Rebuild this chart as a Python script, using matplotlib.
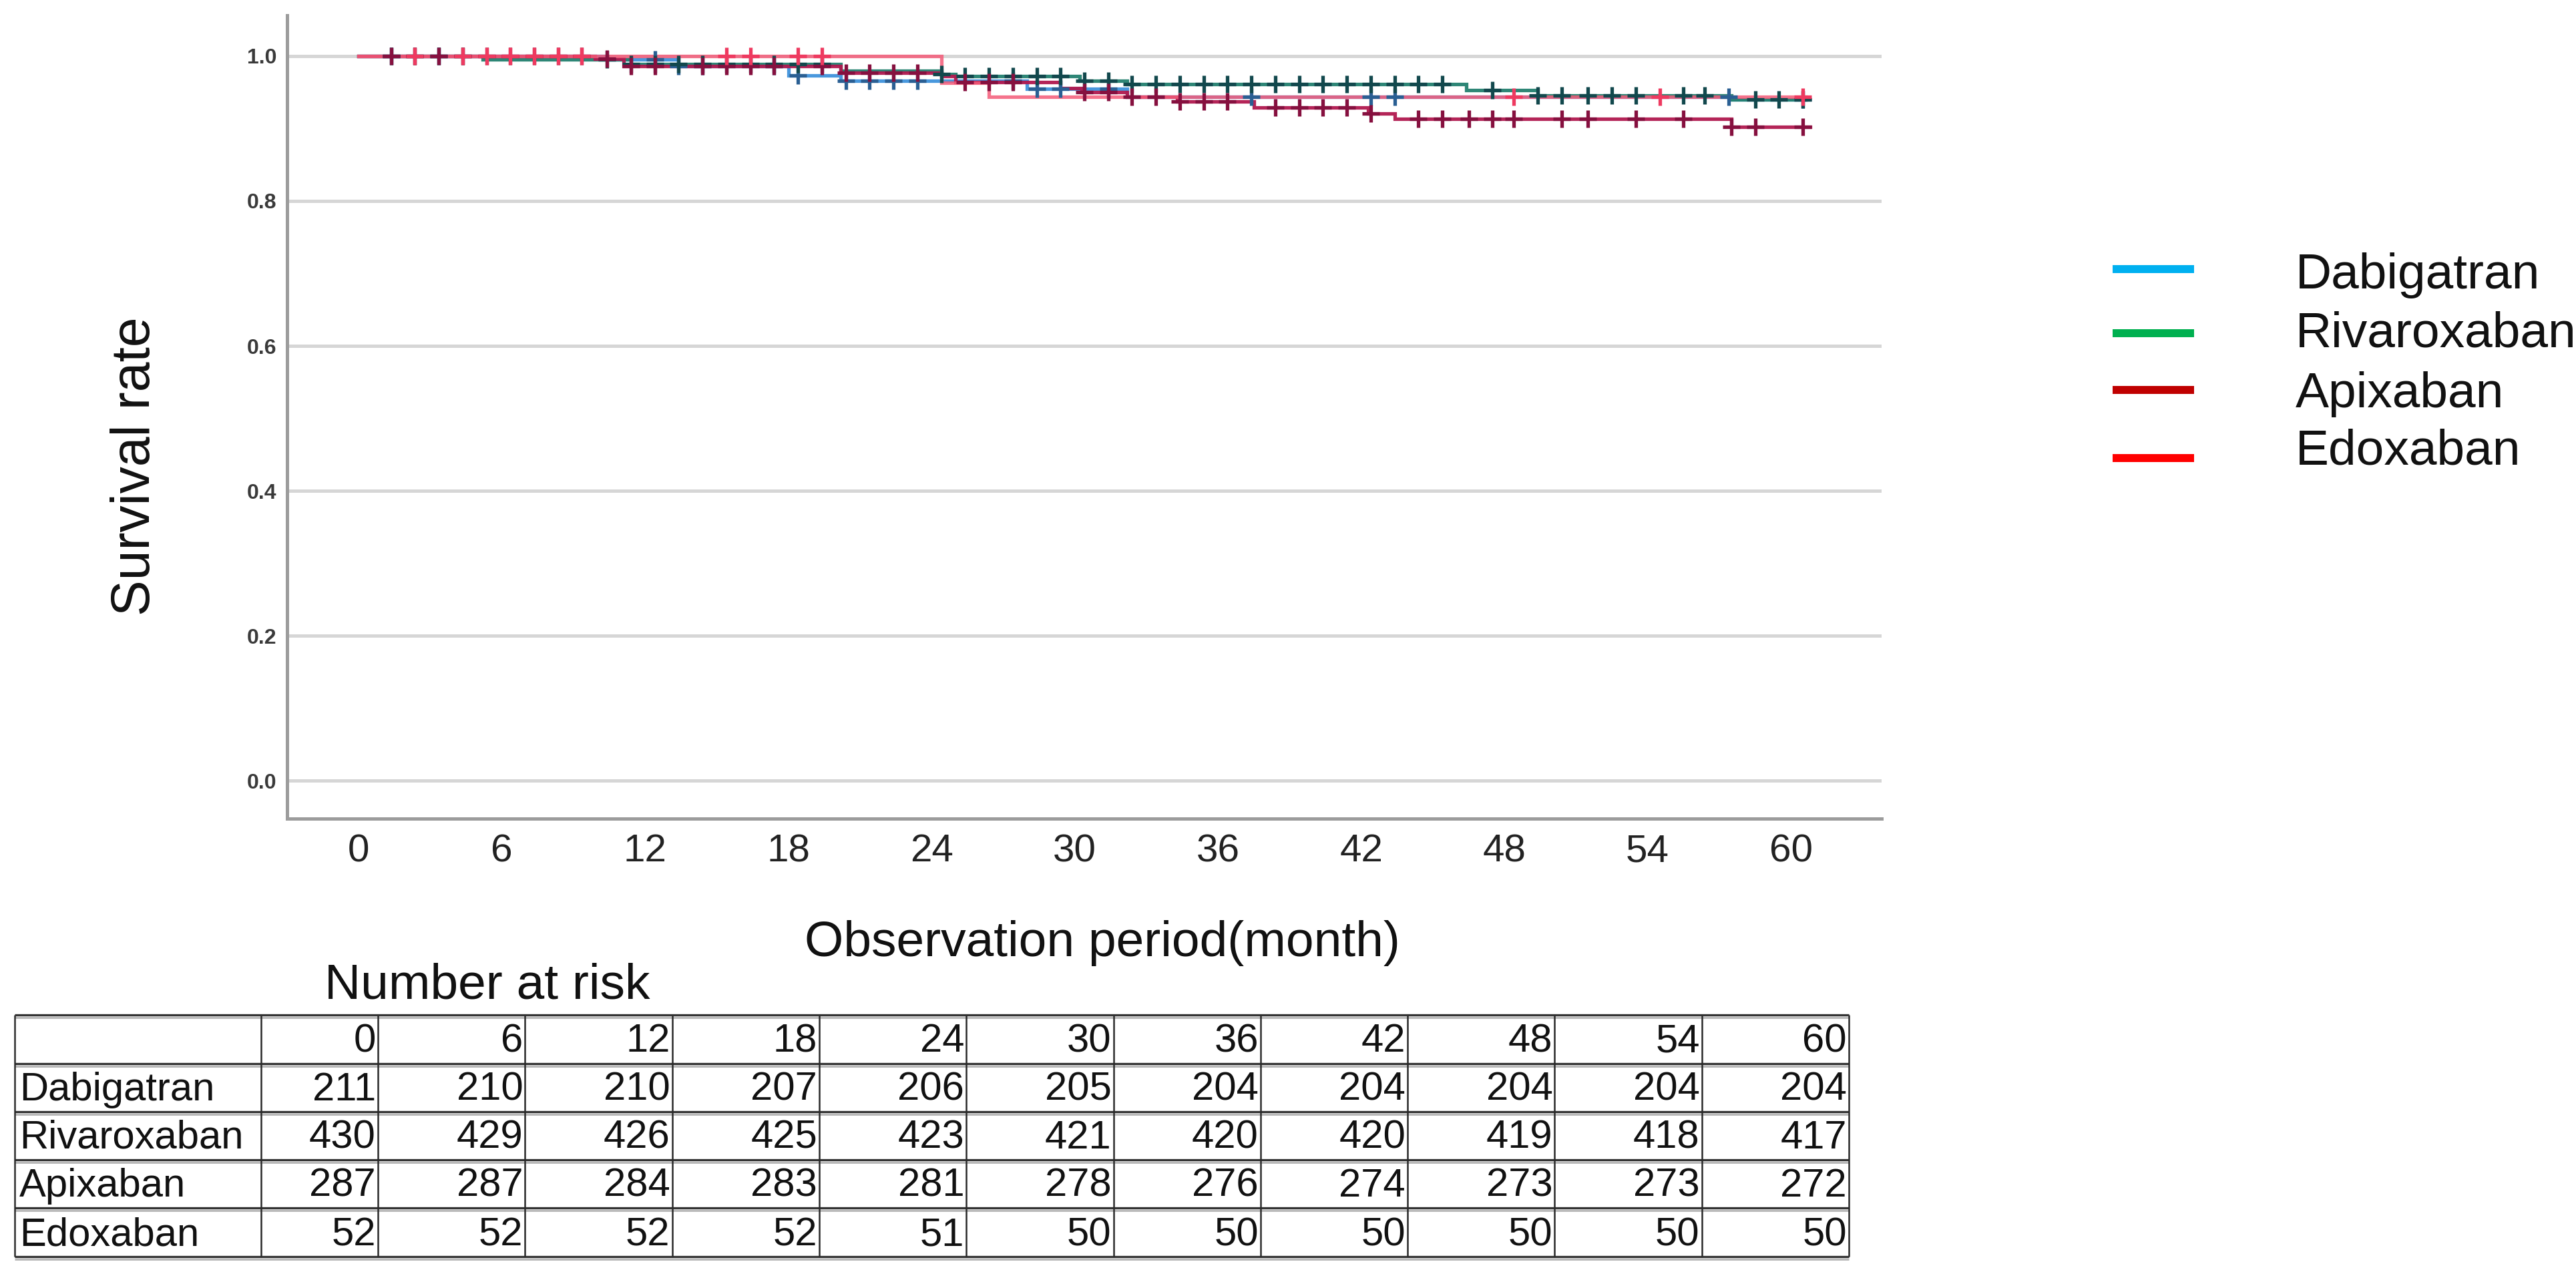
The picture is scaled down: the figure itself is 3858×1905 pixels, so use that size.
import numpy as np
import matplotlib
matplotlib.use('Agg')
import matplotlib.pyplot as plt
from matplotlib import font_manager as fm
from matplotlib.lines import Line2D

# ---------------- data ----------------
groups = ['Dabigatran', 'Rivaroxaban', 'Apixaban', 'Edoxaban']
legend_colors = ['#00B0F0', '#00B050', '#C00000', '#FF0000']
line_colors = ['#3f93dc', '#23806f', '#b0194f', '#f45b78']
mark_colors = ['#2a5f93', '#12484d', '#86103f', '#ee3a60']

# Kaplan-Meier step data (time in months, survival after step)
dab_t = [0, 10.4, 13.4, 18.0, 20.2, 28.0, 32.2, 57.5, 60.6]
dab_s = [1.0, 0.995, 0.986, 0.973, 0.966, 0.955, 0.944, 0.940, 0.940]

riv_t = [0, 5.2, 11.4, 20.2, 24.4, 25.0, 30.2, 32.2, 46.4, 49.4, 57.5, 60.6]
riv_s = [1.0, 0.995, 0.989, 0.980, 0.975, 0.972, 0.966, 0.961, 0.953, 0.946, 0.940, 0.940]

api_t = [0, 9.9, 11.1, 20.2, 24.4, 25.0, 29.4, 30.3, 32.2, 34.3, 37.5, 42.3, 43.4, 57.5, 60.8]
api_s = [1.0, 0.996, 0.986, 0.977, 0.972, 0.964, 0.956, 0.950, 0.944, 0.937, 0.929, 0.921, 0.913, 0.902, 0.902]

edo_t = [0, 24.4, 26.4, 60.6]
edo_s = [1.0, 0.963, 0.944, 0.944]

# censored observations (months)
dab_c = [1.35, 3.35, 12.4, 13.4, 14.4, 17.4, 18.4, 20.4, 21.4, 22.4, 23.4, 27.4, 28.4,
         29.4, 31.4, 37.4, 42.4, 43.4, 57.4, 60.5]
riv_c = [1.35, 2.35, 3.35, 4.35, 10.4, 11.4, 12.4, 13.4, 14.4, 15.4, 16.4, 17.4, 18.4,
         19.4, 24.4, 25.4, 26.4, 27.4, 28.4, 29.4, 30.4, 31.4, 32.4, 33.4, 34.4, 35.4,
         36.4, 37.4, 38.4, 39.4, 40.4, 41.4, 42.4, 43.4, 44.4, 45.4, 47.5, 49.4, 50.4,
         51.5, 52.5, 53.5, 55.5, 56.4, 58.5, 59.5, 60.5]
api_c = [1.35, 2.35, 3.35, 4.35, 5.35, 6.35, 7.35, 8.35, 9.35, 10.4, 11.4, 12.4, 14.4,
         15.4, 16.4, 17.4, 19.4, 20.4, 21.4, 22.4, 23.4, 25.4, 26.4, 27.4, 30.4, 31.4,
         32.4, 33.4, 34.4, 35.4, 36.4, 38.4, 39.4, 40.4, 41.4, 42.4, 44.4, 45.4, 46.5,
         47.5, 48.4, 50.4, 51.5, 53.5, 55.5, 57.5, 58.5, 60.5]
edo_c = [2.35, 4.35, 5.35, 6.35, 7.35, 8.35, 9.35, 15.4, 16.4, 18.4, 19.4, 48.4, 54.5, 60.5]

curve_t = [dab_t, riv_t, api_t, edo_t]
curve_s = [dab_s, riv_s, api_s, edo_s]
censor_t = [dab_c, riv_c, api_c, edo_c]

x_ticks = [0, 6, 12, 18, 24, 30, 36, 42, 48, 54, 60]
y_ticks = [0.0, 0.2, 0.4, 0.6, 0.8, 1.0]
y_tick_labels = ['0.0', '0.2', '0.4', '0.6', '0.8', '1.0']

risk_header = ['0', '6', '12', '18', '24', '30', '36', '42', '48', '54', '60']
risk_dab = [211, 210, 210, 207, 206, 205, 204, 204, 204, 204, 204]
risk_riv = [430, 429, 426, 425, 423, 421, 420, 420, 419, 418, 417]
risk_api = [287, 287, 284, 283, 281, 278, 276, 274, 273, 273, 272]
risk_edo = [52, 52, 52, 52, 51, 50, 50, 50, 50, 50, 50]
risk_rows = [risk_dab, risk_riv, risk_api, risk_edo]

# ---------------- fonts ----------------
avail = {f.name for f in fm.fontManager.ttflist}
FONT = 'Liberation Sans' if 'Liberation Sans' in avail else 'DejaVu Sans'
plt.rcParams['font.family'] = [FONT, 'DejaVu Sans']

W, H = 3858, 1905
fig = plt.figure(figsize=(W / 100, H / 100), dpi=100)
fig.patch.set_facecolor('white')

def fx(px):
    return px / W

def fy(py):
    return 1 - py / H

# ---------------- main KM axes ----------------
ax_l, ax_r, ax_t, ax_b = 430, 2818, 23, 1226
ax = fig.add_axes([fx(ax_l), fy(ax_b), (ax_r - ax_l) / W, (ax_b - ax_t) / H])
ax.set_xlim(-3.0, 63.8)
ax.set_ylim(-0.0525, 1.0562)

for i in range(4):
    t = np.asarray(curve_t[i])
    s = np.asarray(curve_s[i])
    ax.step(t, s, where='post', color=line_colors[i], lw=3.8,
            alpha=0.85 if i == 3 else 0.95, zorder=3 + i, solid_joinstyle='miter')
    c = np.asarray(censor_t[i])
    idx = np.searchsorted(t, c, side='right') - 1
    ax.plot(c, s[idx], linestyle='none', marker='+', ms=19, mew=3.8,
            color=mark_colors[i], zorder=8 + i)

for sp in ['top', 'right']:
    ax.spines[sp].set_visible(False)
for sp in ['left', 'bottom']:
    ax.spines[sp].set_color('#9c9c9c')
    ax.spines[sp].set_linewidth(3.6)

ax.set_yticks(y_ticks)
ax.set_yticklabels(y_tick_labels, fontsize=23, fontweight='bold', color='#3a3a3a')
ax.set_xticks(x_ticks)
ax.set_xticklabels([str(v) for v in x_ticks], fontsize=42, color='#222222')
ax.tick_params(axis='both', length=0)
ax.tick_params(axis='y', pad=11)
ax.tick_params(axis='x', pad=16)
ax.yaxis.grid(True, color='#d6d6d6', lw=3.6)
ax.set_axisbelow(True)

fig.text(fx(203), fy(698), 'Survival rate', rotation=90, ha='center', va='center',
         fontsize=58, color='#111111')
fig.text(fx(1651), fy(1432), 'Observation period(month)', ha='center', va='baseline',
         fontsize=54, color='#111111')
fig.text(fx(730), fy(1495), 'Number at risk', ha='center', va='baseline',
         fontsize=54, color='#111111')

# ---------------- legend ----------------
leg_line_y = [403, 499, 584, 686]
leg_text_base = [432, 520, 610, 695]
for i, g in enumerate(groups):
    fig.add_artist(Line2D([fx(3164), fx(3286)], [fy(leg_line_y[i])] * 2,
                          transform=fig.transFigure, lw=8.6, color=legend_colors[i],
                          solid_capstyle='butt'))
    fig.text(fx(3438), fy(leg_text_base[i]), g, ha='left', va='baseline',
             fontsize=54, color='#111111')

# ---------------- number-at-risk table ----------------
tab = fig.add_axes([0, 0, 1, 1])
tab.set_xlim(0, W)
tab.set_ylim(H, 0)
tab.axis('off')

col_edges = [22, 391, 566] + [566 + 220.3 * k for k in range(1, 11)]
row_edges = [1520, 1593, 1665, 1737, 1809, 1882]

for y in row_edges:
    tab.plot([col_edges[0], col_edges[-1]], [y, y], color='#333333', lw=2.4,
             solid_capstyle='butt', zorder=3)
    tab.plot([col_edges[0], col_edges[-1]], [y + 4, y + 4], color='#b5b5b5', lw=2.0,
             solid_capstyle='butt', zorder=2)
for x in col_edges:
    tab.plot([x, x], [row_edges[0], row_edges[-1]], color='#2a2a2a', lw=1.8,
             solid_capstyle='butt', zorder=3)

TFS = 43
for j, h in enumerate(risk_header):
    tab.text(col_edges[j + 2] - 3, row_edges[1] - 18, h, ha='right', va='baseline',
             fontsize=TFS, color='#111111')
for r, g in enumerate(groups):
    base = row_edges[r + 2] - 17
    tab.text(col_edges[0] + 7, base, g, ha='left', va='baseline', fontsize=TFS,
             color='#111111')
    for j, v in enumerate(risk_rows[r]):
        tab.text(col_edges[j + 2] - 3, base, str(v), ha='right', va='baseline',
                 fontsize=TFS, color='#111111')

fig.savefig('out.png', dpi=100, facecolor='white')
